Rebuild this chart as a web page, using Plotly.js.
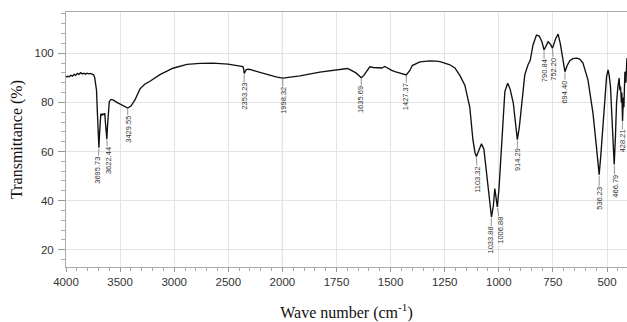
<!DOCTYPE html>
<html>
<head>
<meta charset="utf-8">
<script src="https://cdn.plot.ly/plotly-3.0.1.min.js"></script>
<style>
  html, body { margin: 0; padding: 0; background: #fff; }
  #chart { width: 627px; height: 322px; }
</style>
</head>
<body>
<div id="chart"></div>
<script>
// ---- Data ----
const wavenumber = [
  4000, 3985, 3970, 3955, 3940, 3925, 3910, 3895, 3880, 3865, 3850, 3835, 3820, 3805, 3790, 3775, 3760, 3745,
  3735, 3725, 3718, 3710, 3702, 3695.73, 3690, 3684, 3678, 3668, 3658, 3648, 3642, 3636, 3629, 3622.44, 3617,
  3610, 3600, 3585, 3566, 3530, 3483, 3429.55, 3400, 3363, 3316, 3270, 3224, 3132, 3012, 2882, 2762, 2642,
  2503, 2393, 2365, 2358, 2353.23, 2346, 2335, 2320, 2300, 2208, 2115, 2050, 1998.32, 1965, 1919, 1827, 1760,
  1720, 1700, 1688, 1660, 1645, 1635.69, 1624, 1610, 1596, 1580, 1559, 1540, 1527, 1513, 1495, 1480, 1457,
  1440, 1427.37, 1411, 1400, 1365, 1319, 1290, 1272, 1250, 1226, 1203, 1180, 1157, 1134, 1120, 1110, 1103.32,
  1095, 1080, 1069, 1055, 1044, 1033.88, 1025, 1018.5, 1014, 1006.88, 999, 987, 978, 972, 959, 948, 933, 923,
  914.29, 905, 895, 880, 865, 855, 842, 826, 813, 800, 790.84, 783, 772, 760, 752.20, 737, 726, 716, 706,
  694.40, 684, 672, 658, 640, 626, 611, 588, 565, 549, 536.23, 529, 518, 502, 495, 490, 484, 476, 466.79,
  461, 456, 450, 444, 440.6, 437.4, 433.7, 431.4, 428.21, 424.2, 421.9, 417.3, 412.7, 408
];
const transmittance = [
  90.3, 90.6, 90.4, 91.0, 90.7, 91.4, 91.0, 91.8, 91.4, 92.1, 91.6, 91.9, 91.5, 91.9, 91.6, 91.8, 91.5, 91.2,
  90.2, 88, 85, 76, 66, 61.5, 67, 74, 75.4, 74.8, 75.3, 75.0, 75.6, 72, 67, 65, 70,
  77, 80.3, 81.2, 81.0, 80, 78.8, 77.7, 78.5, 81, 85.5, 87.5, 88.6, 91.3, 93.9, 95.5, 95.9, 96,
  95.6, 95, 94.6, 93.5, 91.8, 92.3, 93.3, 93.5, 93.4, 92.2, 91, 90.3, 89.9, 90.2, 90.8, 92.3, 93.2,
  93.6, 93.8, 93.3, 92, 90.8, 90.0, 91, 93, 94.5, 94.2, 94.2, 94.0, 94.6, 93.8, 93.0, 92.5, 91.8,
  91.4, 91.2, 93, 95, 96.5, 96.9, 96.8, 96.6, 96, 95.3, 94, 91, 87, 78, 65, 59.5, 58,
  60, 63.1, 61, 50, 39, 33.3, 38, 44.9, 42, 37.4, 45, 64, 78, 84.4, 87.8, 85.5, 79.7, 72,
  64.8, 70, 79, 91.2, 95.3, 97, 103.4, 107.4, 107, 104.5, 101.3, 103, 104.7, 103.5, 102, 106, 107.8, 104, 98.6,
  92.5, 95, 97, 97.8, 98, 97.6, 96, 89.2, 75.7, 62.1, 50.6, 58, 72.9, 90.5, 93.2, 91, 86.5, 72, 54.7,
  66, 79.7, 86, 89.9, 85, 86.5, 80, 84, 72.3, 82, 78, 92.5, 88, 98
];
const peakWavenumbers = [3695.73, 3622.44, 3429.55, 2353.23, 1998.32, 1635.69, 1427.37, 1103.32, 1033.88,
  1006.88, 914.29, 790.84, 752.20, 694.40, 536.23, 466.79, 428.21];
const peakLabels = ["3695.73", "3622.44", "3429.55", "2353.23", "1998.32", "1635.69", "1427.37", "1103.32",
  "1033.88", "1006.88", "914.29", "790.84", "752.20", "694.40", "536.23", "466.79", "428.21"];
const xTickLabels = ["4000", "3500", "3000", "2500", "2000", "1750", "1500", "1250", "1000", "750", "500"];

// ---- Axis scale: the instrument expands the region below 2000 cm-1 by 2x ----
function toScale(w) { return w > 2000 ? 2000 + (w - 2000) / 2 : w; }

// label leader offsets (pixels), style only
const labelOffsets = [
  [-1, 22], [1, 21], [0, 21], [0, 23], [0, 22], [0, 22], [0, 22], [1, 23], [-1, 23],
  [3.5, 23], [0, 20], [0, 21], [1.5, 20.5], [0, 20], [0, 24], [1, 22], [-0.5, 20]
];

const xs = wavenumber.map(toScale);

const annotations = peakWavenumbers.map((w, i) => {
  const idx = wavenumber.indexOf(w);
  return {
    x: toScale(w), y: transmittance[idx], xref: 'x', yref: 'y',
    text: peakLabels[i], textangle: -90,
    showarrow: true, arrowhead: 0, arrowwidth: 0.7, arrowcolor: '#666',
    ax: labelOffsets[i][0], ay: labelOffsets[i][1], standoff: 1,
    font: { family: 'Liberation Sans Narrow, Liberation Sans, Arial, sans-serif', size: 7.5, color: '#333' },
    borderpad: 0
  };
});

const trace = {
  x: xs, y: transmittance, type: 'scatter', mode: 'lines',
  line: { color: '#111', width: 1.35 }, hoverinfo: 'skip'
};

const layout = {
  width: 627, height: 322,
  margin: { l: 66, r: 0, t: 12, b: 55 },
  paper_bgcolor: '#fff', plot_bgcolor: '#fff',
  showlegend: false,
  font: { family: 'Liberation Sans, Arial, sans-serif', color: '#333' },
  xaxis: {
    range: [3000, 407.6], autorange: false,
    tickmode: 'array',
    tickvals: xTickLabels.map(t => toScale(Number(t))),
    ticktext: xTickLabels,
    ticks: 'outside', ticklen: 4, tickcolor: '#999', tickwidth: 1,
    minor: { tickmode: 'linear', tick0: 0, dtick: 50, ticks: 'outside', ticklen: 3, tickcolor: '#aaa', showgrid: false },
    showgrid: true, gridcolor: '#e4e4e4', gridwidth: 1,
    showline: true, linecolor: '#aaa', linewidth: 1, mirror: true,
    zeroline: false,
    tickfont: { size: 11.5, color: '#333' },
    title: { text: 'Wave number (cm<sup>-1</sup>)', font: { family: 'Liberation Serif, Times New Roman, serif', size: 16, color: '#111' }, standoff: 20 }
  },
  yaxis: {
    range: [12.96, 116.8], autorange: false,
    tickmode: 'linear', tick0: 0, dtick: 20,
    ticks: 'outside', ticklen: 7, tickcolor: '#999', tickwidth: 1,
    minor: { tickmode: 'linear', tick0: 0, dtick: 4, ticks: 'outside', ticklen: 4, tickcolor: '#aaa', showgrid: false },
    showgrid: true, gridcolor: '#e4e4e4', gridwidth: 1,
    showline: true, linecolor: '#aaa', linewidth: 1,
    zeroline: false,
    tickfont: { size: 11.5, color: '#333' },
    ticklabelstandoff: 2,
    title: { text: 'Transmittance (%)', font: { family: 'Liberation Serif, Times New Roman, serif', size: 16, color: '#111' }, standoff: 7 }
  },
  shapes: [{
    type: 'line', xref: 'x', yref: 'paper', x0: 2000, x1: 2000, y0: 0, y1: 1,
    line: { color: '#a8a8a8', width: 1 }, layer: 'below'
  }],
  annotations: annotations
};

Plotly.newPlot('chart', [trace], layout, { staticPlot: true, displayModeBar: false });
</script>
</body>
</html>
